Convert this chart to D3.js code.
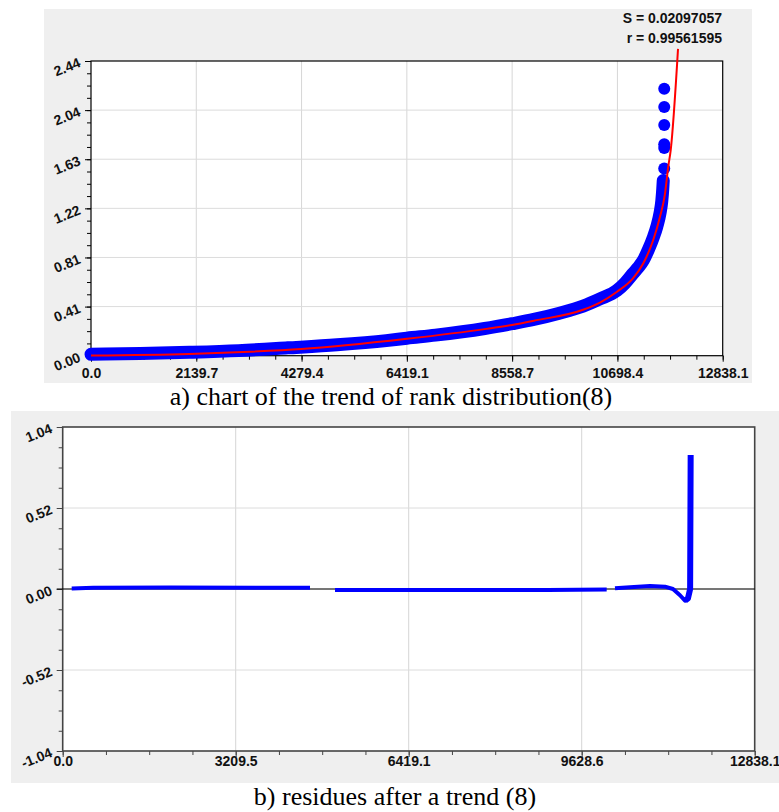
<!DOCTYPE html>
<html>
<head>
<meta charset="utf-8">
<script src="https://cdn.jsdelivr.net/npm/d3@7"></script>
<style>
body { margin: 0; background: #fff; }
svg { display: block; }
.tick text { font-family: "Liberation Sans", Arial, sans-serif; font-weight: bold; font-size: 14px; fill: #111; }
.note { font-family: "Liberation Sans", Arial, sans-serif; font-weight: bold; font-size: 14px; fill: #111; }
.cap { font-family: "Liberation Serif", "Times New Roman", serif; font-size: 26px; fill: #000; }
</style>
</head>
<body>
<svg></svg>
<script>
// chart a) rank distribution
var rankMaxA = 12838.1, valMaxA = 2.44;
var xTicksA = ['0.0', '2139.7', '4279.4', '6419.1', '8558.7', '10698.4', '12838.1'];
var yTicksA = ['0.00', '0.41', '0.81', '1.22', '1.63', '2.04', '2.44'];
var obsRank = [0, 1000, 2000, 3000, 4000, 5000, 6000, 6419, 7000, 8000, 8558, 9000, 9500, 10000, 10344, 10690, 10850, 11015, 11120, 11225, 11330, 11428, 11500, 11564, 11600, 11620, 11630];
var obsVal  = [0.012, 0.018, 0.028, 0.042, 0.065, 0.09, 0.125, 0.145, 0.17, 0.225, 0.265, 0.30, 0.35, 0.41, 0.47, 0.54, 0.60, 0.68, 0.73, 0.79, 0.88, 0.98, 1.07, 1.18, 1.28, 1.38, 1.45];
var outRank = [11650, 11650, 11650, 11650, 11650, 11650];
var outVal  = [1.55, 1.72, 1.75, 1.91, 2.06, 2.21];
var fitRank = [0, 2000, 3231, 4279, 6422, 8000, 8558, 9000, 10000, 10344, 10690, 11015, 11225, 11428, 11564, 11665, 11733, 11781, 11930];
var fitVal  = [0.002, 0.015, 0.033, 0.055, 0.14, 0.22, 0.255, 0.29, 0.38, 0.44, 0.53, 0.64, 0.765, 0.96, 1.15, 1.34, 1.57, 1.70, 2.54];
var statLines = ['S = 0.02097057', 'r = 0.99561595'];

// chart b) residues
var rankMaxB = 12838.1, valMaxB = 1.04;
var xTicksB = ['0.0', '3209.5', '6419.1', '9628.6', '12838.1'];
var yTicksB = ['-1.04', '-0.52', '0.00', '0.52', '1.04'];
var resRank = [167, 568, 2000, 4000, 4588, 4800, 5052, 7000, 9000, 10092, 10170, 10246, 10525, 10896, 11174, 11322, 11452, 11545, 11600, 11640, 11650];
var resVal  = [0.004, 0.008, 0.009, 0.008, 0.008, null, -0.006, -0.007, -0.006, -0.004, null, 0.005, 0.012, 0.02, 0.015, 0.0, -0.04, -0.075, -0.06, 0.0, 0.86];

var captions = ['a) chart of the trend of rank distribution(8)', 'b) residues after a trend (8)'];

var svg = d3.select('svg').attr('width', 779).attr('height', 812);

// gray panels
svg.append('rect').attr('x', 44).attr('y', 9).attr('width', 708).attr('height', 374).attr('fill', '#efefef');
svg.append('rect').attr('x', 11).attr('y', 411).attr('width', 768).attr('height', 372).attr('fill', '#efefef');

var drawFrame = function(g, x, y, nx, ny, minorN, opts) {
	var x0 = x.range()[0], x1 = x.range()[1], y0 = y.range()[0], y1 = y.range()[1];
	g.append('rect').attr('x', x0).attr('y', y1).attr('width', x1 - x0).attr('height', y0 - y1).attr('fill', '#fff');

	var dx = x.domain(), dy = y.domain();
	var xv = d3.range(nx + 1).map(function(i) { return dx[0] + (dx[1] - dx[0]) * i / nx; });
	var yv = d3.range(ny + 1).map(function(i) { return dy[0] + (dy[1] - dy[0]) * i / ny; });
	var xm = d3.range(nx * minorN + 1).map(function(i) { return dx[0] + (dx[1] - dx[0]) * i / (nx * minorN); });
	var ym = d3.range(ny * minorN + 1).map(function(i) { return dy[0] + (dy[1] - dy[0]) * i / (ny * minorN); });

	// grid
	g.append('g').selectAll('line').data(xv.slice(1, -1)).enter().append('line')
		.attr('x1', function(d) { return x(d); }).attr('x2', function(d) { return x(d); })
		.attr('y1', y0).attr('y2', y1).attr('stroke', '#d6d6d6');
	g.append('g').selectAll('line').data(yv.slice(1, -1)).enter().append('line')
		.attr('y1', function(d) { return y(d); }).attr('y2', function(d) { return y(d); })
		.attr('x1', x0).attr('x2', x1).attr('stroke', '#dcdcdc');

	// minor ticks
	g.append('g').attr('transform', 'translate(0,' + y0 + ')')
		.call(d3.axisBottom(x).tickValues(xm).tickSize(4).tickFormat(''))
		.call(function(s) { s.select('.domain').remove(); s.selectAll('line').attr('stroke', opts.axis); });
	g.append('g').attr('transform', 'translate(' + x0 + ',0)')
		.call(d3.axisLeft(y).tickValues(ym).tickSize(4).tickFormat(''))
		.call(function(s) { s.select('.domain').remove(); s.selectAll('line').attr('stroke', opts.axis); });

	// major ticks + labels
	var xa = g.append('g').attr('transform', 'translate(0,' + y0 + ')')
		.call(d3.axisBottom(x).tickValues(xv).tickSize(6).tickFormat(function(d, i) { return opts.xLabels[i]; }));
	xa.select('.domain').remove();
	xa.selectAll('line').attr('stroke', opts.axis);
	xa.selectAll('text').attr('y', opts.xLabelY).attr('dy', 0);

	var ya = g.append('g').attr('transform', 'translate(' + x0 + ',0)')
		.call(d3.axisLeft(y).tickValues(yv).tickSize(6).tickFormat(function(d, i) { return opts.yLabels[i]; }));
	ya.select('.domain').remove();
	ya.selectAll('line').attr('stroke', opts.axis);
	ya.selectAll('text').attr('x', 0).attr('dy', '0.3em')
		.attr('transform', 'translate(-11,1) rotate(-22)');

	// border
	g.append('rect').attr('x', x0).attr('y', y1).attr('width', x1 - x0).attr('height', y0 - y1)
		.attr('fill', 'none').attr('stroke', opts.axis).attr('stroke-width', opts.borderW);
};

// ---- chart a
var xA = d3.scaleLinear().domain([0, rankMaxA]).range([91, 722.7]);
var yA = d3.scaleLinear().domain([0, valMaxA]).range([355.7, 61]);
var gA = svg.append('g');
drawFrame(gA, xA, yA, 6, 6, 4, { xLabels: xTicksA, yLabels: yTicksA, axis: '#000', borderW: 1.2, xLabelY: 22 });

var obs = obsRank.map(function(r, i) { return [r, obsVal[i]]; });
gA.append('path').datum(obs)
	.attr('d', d3.line().x(function(d) { return xA(d[0]); }).y(function(d) { return yA(d[1]); }).curve(d3.curveMonotoneX))
	.attr('fill', 'none').attr('stroke', '#0000ff').attr('stroke-width', 13)
	.attr('stroke-linecap', 'round').attr('stroke-linejoin', 'round');

gA.append('g').selectAll('circle').data(outRank).enter().append('circle')
	.attr('cx', function(d) { return xA(d); })
	.attr('cy', function(d, i) { return yA(outVal[i]); })
	.attr('r', 6).attr('fill', '#0000ff');

var fit = fitRank.map(function(r, i) { return [r, fitVal[i]]; });
gA.append('path').datum(fit)
	.attr('d', d3.line().x(function(d) { return xA(d[0]); }).y(function(d) { return yA(d[1]); }).curve(d3.curveMonotoneX))
	.attr('fill', 'none').attr('stroke', '#ff0000').attr('stroke-width', 2);

gA.selectAll('.note').data(statLines).enter().append('text')
	.attr('class', 'note').attr('text-anchor', 'end')
	.attr('x', 722).attr('y', function(d, i) { return 23 + i * 20; })
	.text(function(d) { return d; });

// ---- chart b
var xB = d3.scaleLinear().domain([0, rankMaxB]).range([62.7, 754.7]);
var yB = d3.scaleLinear().domain([-valMaxB, valMaxB]).range([751, 427]);
var gB = svg.append('g');
drawFrame(gB, xB, yB, 4, 4, 4, { xLabels: xTicksB, yLabels: yTicksB, axis: '#444', borderW: 1.6, xLabelY: 15 });

// zero line
gB.append('line').attr('x1', xB.range()[0] - 6).attr('x2', xB.range()[1])
	.attr('y1', yB(0)).attr('y2', yB(0)).attr('stroke', '#000');

var res = resRank.map(function(r, i) { return [r, resVal[i]]; });
var resLine = d3.line().defined(function(d) { return d[1] !== null; })
	.x(function(d) { return xB(d[0]); }).y(function(d) { return yB(d[1]); });
gB.append('path').datum(res).attr('d', resLine)
	.attr('fill', 'none').attr('stroke', '#0000ff').attr('stroke-width', 4).attr('stroke-linejoin', 'round');
gB.append('path').datum(res.slice(-4)).attr('d', resLine)
	.attr('fill', 'none').attr('stroke', '#0000ff').attr('stroke-width', 6).attr('stroke-linejoin', 'round');

// captions
svg.append('text').attr('class', 'cap').attr('text-anchor', 'middle').attr('x', 391).attr('y', 405).text(captions[0]);
svg.append('text').attr('class', 'cap').attr('text-anchor', 'middle').attr('x', 395).attr('y', 805).text(captions[1]);
</script>
</body>
</html>
